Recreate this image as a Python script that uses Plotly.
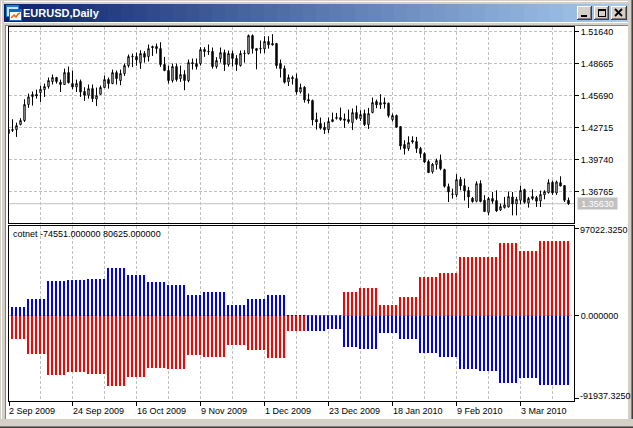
import plotly.graph_objects as go

W, H = 633, 428
FONT = "Liberation Sans, sans-serif"
FS = 9

opens = [1.4252,1.4252,1.4252,1.4299,1.4336,1.4485,1.4559,1.4578,1.4596,1.4624,1.4652,1.4699,1.4736,1.4692,1.4671,1.4782,1.4680,1.4649,1.4699,1.4606,
1.4571,1.4633,1.4537,1.4580,1.4643,1.4717,1.4680,1.4782,1.4708,1.4773,1.4847,1.4934,1.4931,1.4875,1.4959,1.4931,1.5024,1.5024,1.5005,1.4857,
1.4801,1.4708,1.4838,1.4726,1.4764,1.4708,1.4875,1.4866,1.4866,1.4996,1.4981,1.4978,1.4838,1.4913,1.4968,1.4857,1.4959,1.4913,1.4847,1.4962,
1.4959,1.5126,1.5005,1.5008,1.5002,1.5071,1.5052,1.5052,1.4866,1.4819,1.4696,1.4736,1.4726,1.4602,1.4646,1.4531,1.4522,1.4345,1.4308,1.4274,
1.4252,1.4327,1.4364,1.4364,1.4351,1.4345,1.4317,1.4410,1.4355,1.4401,1.4299,1.4410,1.4513,1.4482,1.4503,1.4497,1.4345,1.4382,1.4280,1.4113,
1.4076,1.4150,1.4141,1.4076,1.4029,1.3955,1.3859,1.3927,1.3967,1.3880,1.3722,1.3653,1.3645,1.3787,1.3731,1.3685,1.3614,1.3586,1.3750,1.3595,
1.3483,1.3611,1.3592,1.3505,1.3527,1.3533,1.3626,1.3561,1.3595,1.3694,1.3570,1.3629,1.3620,1.3589,1.3645,1.3666,1.3762,1.3663,1.3759,1.3731,1.3595]
highs = [1.4261,1.4348,1.4317,1.4358,1.4534,1.4587,1.4606,1.4624,1.4661,1.4680,1.4736,1.4764,1.4742,1.4717,1.4819,1.4838,1.4801,1.4717,1.4717,1.4646,
1.4671,1.4671,1.4643,1.4661,1.4754,1.4736,1.4810,1.4801,1.4810,1.4866,1.4950,1.4959,1.4968,1.4990,1.4981,1.5043,1.5033,1.5052,1.5064,1.4928,
1.4847,1.4866,1.4866,1.4847,1.4804,1.4903,1.4913,1.4913,1.5018,1.5018,1.5043,1.5015,1.4925,1.5015,1.4996,1.4987,1.4987,1.4944,1.4987,1.4990,
1.5136,1.5136,1.5005,1.5080,1.5120,1.5120,1.5139,1.5058,1.4903,1.4847,1.4764,1.4754,1.4773,1.4680,1.4655,1.4587,1.4531,1.4410,1.4364,1.4320,
1.4364,1.4410,1.4407,1.4457,1.4401,1.4438,1.4448,1.4475,1.4432,1.4438,1.4454,1.4550,1.4531,1.4581,1.4550,1.4503,1.4401,1.4392,1.4283,1.4153,
1.4190,1.4190,1.4184,1.4091,1.4041,1.3973,1.3942,1.3982,1.4020,1.3889,1.3750,1.3703,1.3837,1.3812,1.3797,1.3719,1.3626,1.3772,1.3781,1.3642,
1.3626,1.3672,1.3688,1.3564,1.3626,1.3676,1.3672,1.3626,1.3731,1.3703,1.3626,1.3697,1.3635,1.3685,1.3688,1.3790,1.3778,1.3778,1.3818,1.3735,1.3620]
lows = [1.4209,1.4230,1.4184,1.4292,1.4323,1.4454,1.4475,1.4540,1.4509,1.4556,1.4633,1.4671,1.4680,1.4602,1.4668,1.4680,1.4627,1.4602,1.4556,1.4519,
1.4540,1.4509,1.4472,1.4574,1.4637,1.4633,1.4674,1.4671,1.4665,1.4751,1.4829,1.4835,1.4847,1.4816,1.4875,1.4885,1.4937,1.4959,1.4835,1.4795,
1.4680,1.4689,1.4699,1.4696,1.4618,1.4692,1.4810,1.4810,1.4847,1.4928,1.4947,1.4819,1.4819,1.4875,1.4798,1.4838,1.4838,1.4798,1.4838,1.4875,
1.4950,1.4959,1.4813,1.4959,1.4962,1.5005,1.5033,1.4819,1.4736,1.4680,1.4658,1.4671,1.4578,1.4587,1.4503,1.4494,1.4292,1.4252,1.4252,1.4212,
1.4221,1.4320,1.4345,1.4333,1.4268,1.4308,1.4249,1.4342,1.4333,1.4286,1.4258,1.4404,1.4451,1.4444,1.4448,1.4364,1.4327,1.4274,1.4066,1.4020,
1.4054,1.4122,1.4035,1.3989,1.3942,1.3849,1.3843,1.3880,1.3874,1.3713,1.3579,1.3610,1.3626,1.3688,1.3592,1.3524,1.3573,1.3576,1.3576,1.3487,
1.3455,1.3564,1.3487,1.3496,1.3518,1.3527,1.3455,1.3455,1.3558,1.3564,1.3527,1.3595,1.3533,1.3533,1.3604,1.3657,1.3645,1.3645,1.3725,1.3579,1.3552]
closes = [1.4215,1.4246,1.4289,1.4336,1.4485,1.4556,1.4578,1.4565,1.4627,1.4652,1.4708,1.4736,1.4699,1.4671,1.4782,1.4689,1.4649,1.4680,1.4602,1.4571,
1.4633,1.4540,1.4568,1.4643,1.4717,1.4680,1.4782,1.4726,1.4773,1.4847,1.4931,1.4931,1.4900,1.4959,1.4925,1.5005,1.5015,1.5005,1.4857,1.4801,
1.4708,1.4838,1.4717,1.4764,1.4708,1.4875,1.4866,1.4838,1.4996,1.4978,1.4978,1.4838,1.4894,1.4968,1.4857,1.4959,1.4913,1.4857,1.4959,1.4959,
1.5126,1.5005,1.4987,1.5005,1.5071,1.5040,1.5040,1.4847,1.4819,1.4692,1.4736,1.4726,1.4602,1.4643,1.4528,1.4519,1.4342,1.4323,1.4265,1.4249,
1.4327,1.4345,1.4358,1.4345,1.4339,1.4327,1.4410,1.4355,1.4392,1.4299,1.4401,1.4503,1.4482,1.4503,1.4491,1.4382,1.4382,1.4274,1.4100,1.4076,
1.4131,1.4138,1.4076,1.4029,1.3951,1.3852,1.3930,1.3964,1.3889,1.3725,1.3672,1.3651,1.3787,1.3728,1.3682,1.3626,1.3583,1.3750,1.3583,1.3490,
1.3611,1.3586,1.3496,1.3536,1.3552,1.3629,1.3561,1.3604,1.3685,1.3576,1.3611,1.3611,1.3586,1.3648,1.3676,1.3759,1.3663,1.3765,1.3728,1.3595,1.3563]

# Weekly COT net positions, held for each daily bar of the report week
week_days = [4,5,5,5,5,5,5,5,5,4,6,5,5,5,5,5,4,4,5,5,5,5,5,5,5,5,5,8]
blue_net = [9693,18309,37695,38772,39849,51696,44157,36618,33387,22617,25848,11847,18309,22617,300,-16155,-14001,
            -33387,-35541,-18309,-24771,-39849,-44157,-57081,-59235,-72159,-66774,-74551]
red_net = [-24771,-40926,-63543,-60312,-62466,-75390,-65697,-56004,-57081,-42003,-44157,-31233,-36618,-45234,-16155,400,400,
           25848,30156,11847,20463,42003,46311,63543,63543,78621,70005,80625]

date_labels = ["2 Sep 2009","24 Sep 2009","16 Oct 2009","9 Nov 2009","1 Dec 2009","23 Dec 2009","18 Jan 2010","9 Feb 2010","3 Mar 2010"]
date_idx = [0,16,32,48,64,80,96,112,128]
grid_idx = [8,24,40,56,72,88,104,120,136]
price_ticks = [1.51640,1.48665,1.45690,1.42715,1.39740,1.36765]
last_price = 1.35630
net_top, net_bottom = 97022.3250, -91937.3250

def expand(vals):
    out = []
    for v, n in zip(vals, week_days):
        out += [v] * n
    return out

days = list(range(len(opens)))
bar_days = days[1:]
GRID = dict(color="#c0c0c0", dash="3px,2px")

fig = go.Figure()
fig.add_trace(go.Candlestick(x=days, open=opens, high=highs, low=lows, close=closes,
    increasing=dict(line=dict(color="black", width=1), fillcolor="white"),
    decreasing=dict(line=dict(color="black", width=1), fillcolor="black"),
    whiskerwidth=0, xaxis="x", yaxis="y", showlegend=False))
fig.add_trace(go.Bar(x=bar_days, y=expand(blue_net), marker=dict(color="#0000ff", line=dict(width=0)),
    width=0.5, offset=-0.375, xaxis="x2", yaxis="y2", showlegend=False))
fig.add_trace(go.Bar(x=bar_days, y=expand(red_net), marker=dict(color="#ff0000", line=dict(width=0)),
    width=0.5, offset=-0.375, xaxis="x2", yaxis="y2", showlegend=False))

def px(x): return x / W
def py(y): return 1 - y / H

xr = [0.125, 141.375]
# the first date sits on the left edge of the window
date_pos = [max(i, xr[0]) for i in date_idx]
common = dict(range=xr, showline=True, linecolor="black", linewidth=1, mirror=True, zeroline=False)
fig.update_layout(
    width=W, height=H, autosize=False, margin=dict(l=0, r=0, t=0, b=0),
    paper_bgcolor="white", plot_bgcolor="white", barmode="overlay", boxgap=0.5, bargap=0,
    font=dict(family=FONT, size=FS, color="black"), hovermode=False,
    xaxis=dict(domain=[px(9), px(574)], anchor="y", rangeslider=dict(visible=False),
               tickvals=date_idx + grid_idx, showticklabels=False, ticks="",
               showgrid=True, gridcolor=GRID["color"], griddash=GRID["dash"], gridwidth=1, **common),
    yaxis=dict(domain=[py(223), py(27)], range=[1.33837, 1.52058], side="right", anchor="x",
               tickvals=price_ticks, ticktext=[f"{v:.5f}" for v in price_ticks],
               ticks="outside", ticklen=4, tickcolor="black", tickwidth=1,
               showgrid=True, gridcolor=GRID["color"], griddash=GRID["dash"], gridwidth=1,
               showline=True, linecolor="black", linewidth=1, mirror=True, zeroline=False,
               tickfont=dict(family=FONT, size=FS)),
    xaxis2=dict(domain=[px(9), px(574)], anchor="y2",
                tickvals=date_pos, showticklabels=False, ticks="outside", ticklen=4, tickcolor="black", tickwidth=1,
                showgrid=True, gridcolor=GRID["color"], griddash=GRID["dash"], gridwidth=1,
                minor=dict(tickvals=grid_idx, showgrid=True, gridcolor=GRID["color"], griddash=GRID["dash"], gridwidth=1, ticks=""),
                **common),
    yaxis2=dict(domain=[py(401), py(226)], range=[net_bottom, net_top], side="right", anchor="x2",
                tickvals=[94322, 0, -89238], ticktext=["", "0.000000", ""],
                ticks="outside", ticklen=4, tickcolor="black", tickwidth=1, showgrid=False,
                minor=dict(tickvals=[0], showgrid=True, gridcolor=GRID["color"], griddash=GRID["dash"], gridwidth=1, ticks=""),
                showline=True, linecolor="black", linewidth=1, mirror=True, zeroline=False,
                tickfont=dict(family=FONT, size=FS)),
)

shapes = []
def rect(x0, y0, x1, y1, color, layer="below"):
    shapes.append(dict(type="rect", xref="paper", yref="paper", x0=px(x0), x1=px(x1), y0=py(y0), y1=py(y1),
                       fillcolor=color, line=dict(width=0), layer=layer))

# window frame
rect(0, 0, 633, 4, "#d4d0c8"); rect(0, 0, 1, 428, "#d4d0c8"); rect(1, 1, 633, 2, "#ffffff")
rect(0, 0, 4, 428, "#d4d0c8"); rect(1, 1, 2, 426, "#ffffff")
rect(628, 0, 633, 428, "#d4d0c8"); rect(631, 0, 632, 427, "#808080"); rect(632, 0, 633, 428, "#404040")
rect(0, 419, 633, 428, "#d4d0c8"); rect(0, 426, 633, 427, "#808080"); rect(0, 427, 633, 428, "#404040")
rect(4, 23, 628, 25, "#d4d0c8"); rect(4, 25, 628, 26, "#808080")
rect(4, 23, 6, 419, "#d4d0c8"); rect(5, 25, 6, 419, "#808080")

# title bar gradient
n = 48
c0, c1 = (10, 36, 106), (166, 202, 240)
for k in range(n):
    t = k / (n - 1)
    col = "rgb(%d,%d,%d)" % tuple(round(a + (b - a) * t) for a, b in zip(c0, c1))
    rect(4 + 624 * k / n, 4, 4 + 624 * (k + 1) / n, 22, col)

# title icon
rect(6, 5, 19, 17, "#1c7ad8"); rect(7, 7, 18, 16, "#cfe4f8")
rect(9, 9, 22, 21, "#1266c4"); rect(10, 12, 21, 20, "#ffffff")
shapes.append(dict(type="path", xref="paper", yref="paper", layer="below",
    path="M %f %f L %f %f L %f %f L %f %f L %f %f" % (px(11), py(18), px(14), py(15), px(16), py(17), px(18), py(14), px(20), py(13)),
    line=dict(color="#f0601c", width=1.5)))

# window buttons
for x0, x1 in [(577, 592), (594, 609), (611, 627)]:
    rect(x0, 6, x1, 20, "#404040"); rect(x0, 6, x1 - 1, 19, "#ffffff")
    rect(x0 + 1, 7, x1 - 1, 19, "#808080"); rect(x0 + 1, 7, x1 - 2, 18, "#d4d0c8")
rect(581, 15, 587, 17, "#000000")
rect(598, 9, 606, 17, "#000000"); rect(599, 11, 605, 16, "#d4d0c8")
for a, b, c, d in [(615, 9, 622, 16), (622, 9, 615, 16)]:
    shapes.append(dict(type="line", xref="paper", yref="paper", x0=px(a), y0=py(b), x1=px(c), y1=py(d),
                       line=dict(color="black", width=1.8), layer="below"))

# bid line
shapes.append(dict(type="line", xref="x", yref="y", x0=xr[0], x1=xr[1], y0=last_price, y1=last_price,
                   line=dict(color="#c0c0c0", width=1), layer="below"))
fig.update_layout(shapes=shapes)

ann = []
def text(x, y, s, color="black", anchor="left", size=FS, family=FONT, **kw):
    ann.append(dict(x=px(x), y=py(y), xref="paper", yref="paper", text=s, showarrow=False,
                    xanchor=anchor, yanchor="middle", font=dict(color=color, size=size, family=family), **kw))

text(21, 13.5, "<b>EURUSD,Daily</b>", color="white", size=11)
text(11, 234.5, "cotnet -74551.000000 80625.000000")
text(577.5, 230.5, f"{net_top:.4f}")
text(577.5, 395.5, f"{net_bottom:.4f}")
for i, s in zip(date_pos, date_labels):
    ann.append(dict(x=i, xref="x2", xshift=-2, y=py(410.5), yref="paper", text=s, showarrow=False, xanchor="left", yanchor="middle",
                    font=dict(size=FS, family=FONT)))
# last price flag
ann.append(dict(x=px(577), xref="paper", y=last_price, yref="y", text=f"{last_price:.5f}", showarrow=False,
                xanchor="left", yanchor="middle", bgcolor="#c0c0c0", width=39, height=11, borderpad=0, align="center",
                font=dict(color="white", size=FS, family=FONT)))
fig.update_layout(annotations=ann)

fig.write_html("out.html", config={"displayModeBar": False},
               post_script="document.body.style.margin='0';document.documentElement.style.overflow='hidden';")
